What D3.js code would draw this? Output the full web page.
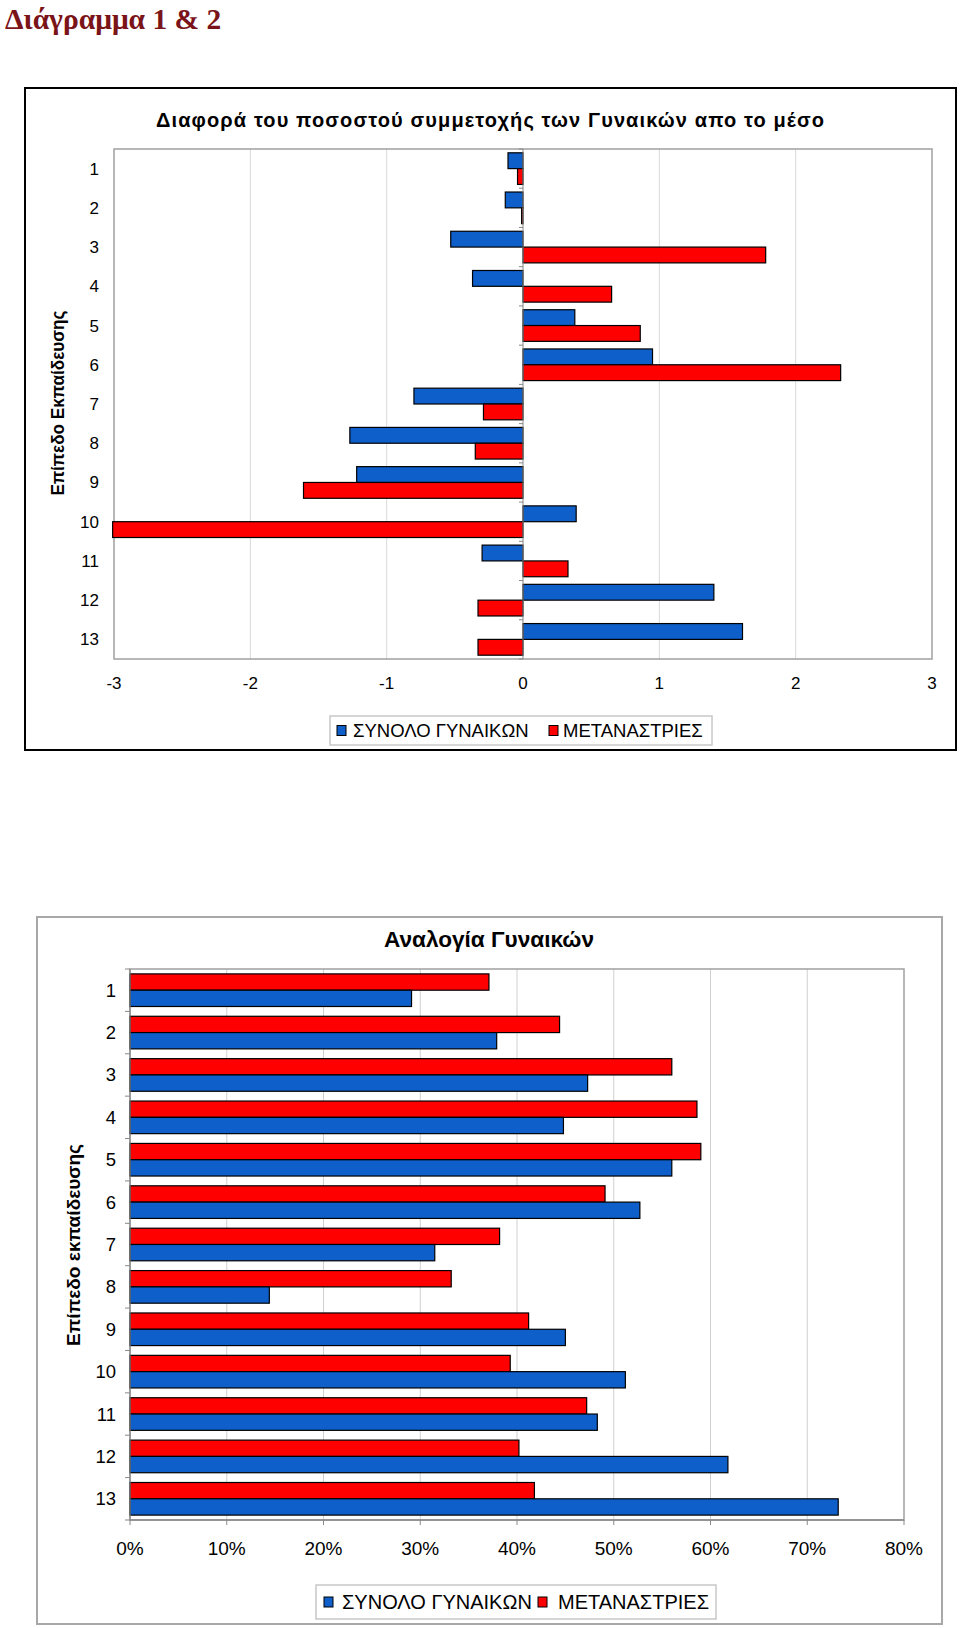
<!DOCTYPE html>
<html><head><meta charset="utf-8">
<script src="https://cdn.jsdelivr.net/npm/d3@7"></script>
<style>body{margin:0;background:#fff}svg{display:block}</style>
</head><body>
<svg id="c" width="960" height="1628"></svg>
<script>
// ---- Data ----
const categories = ["1","2","3","4","5","6","7","8","9","10","11","12","13"];
const seriesNames = ["ΣΥΝΟΛΟ ΓΥΝΑΙΚΩΝ","ΜΕΤΑΝΑΣΤΡΙΕΣ"];
// Chart 1: difference from mean
const diffTotal = [-0.11,-0.13,-0.53,-0.37,0.38,0.95,-0.80,-1.27,-1.22,0.39,-0.30,1.40,1.61];
const diffMigrant = [-0.04,-0.01,1.78,0.65,0.86,2.33,-0.29,-0.35,-1.61,-3.01,0.33,-0.33,-0.33];
const diffTicks = [-3,-2,-1,0,1,2,3];
// Chart 2: share of women
const shareTotal = [0.291,0.379,0.473,0.448,0.560,0.527,0.315,0.144,0.450,0.512,0.483,0.618,0.732];
const shareMigrant = [0.371,0.444,0.560,0.586,0.590,0.491,0.382,0.332,0.412,0.393,0.472,0.402,0.418];
const shareTicks = [0,0.1,0.2,0.3,0.4,0.5,0.6,0.7,0.8];

const BLUE = "#0F5FCB", RED = "#FF0000";
const svg = d3.select("#c");
const FONT = "'Liberation Sans', Arial, sans-serif";

// Main heading
svg.append("text").attr("x",5).attr("y",29)
  .attr("font-family","'Liberation Serif','Times New Roman',serif")
  .attr("font-weight","bold").attr("font-size",29.5).attr("fill","#7A1418")
  .text("Διάγραμμα 1 & 2");

function legend(g, x, y, w, h, fs, swatchX, text1X, swatch2X, text2X){
  g.append("rect").attr("x",x).attr("y",y).attr("width",w).attr("height",h)
    .attr("fill","#fff").attr("stroke","#c8c8c8").attr("stroke-width",1.5);
  const cy = y + h/2;
  const cols=[BLUE,RED];
  [[swatchX,text1X],[swatch2X,text2X]].forEach((p,i)=>{
    g.append("rect").attr("x",p[0]).attr("y",cy-5).attr("width",9).attr("height",10)
      .attr("fill",cols[i]).attr("stroke","#000").attr("stroke-width",1);
    g.append("text").attr("x",p[1]).attr("y",cy+fs*0.36).attr("font-family",FONT)
      .attr("font-size",fs).attr("fill","#000").text(seriesNames[i]);
  });
}

// ===== Chart 1 =====
{
  const g = svg.append("g");
  g.append("rect").attr("x",25).attr("y",88).attr("width",931).attr("height",662)
    .attr("fill","#fff").attr("stroke","#000").attr("stroke-width",2);
  g.append("text").attr("x",490).attr("y",127).attr("text-anchor","middle")
    .attr("font-family",FONT).attr("font-weight","bold").attr("font-size",20)
    .attr("textLength",668).attr("lengthAdjust","spacing")
    .text("Διαφορά του ποσοστού συμμετοχής των Γυναικών απο το μέσο");

  const x = d3.scaleLinear().domain([-3,3]).range([114,932]);
  const y = d3.scaleBand().domain(categories).range([149,659]);
  const sub = d3.scaleBand().domain([0,1]).range([0,y.bandwidth()]).paddingOuter(0.24);

  g.selectAll(".gl").data(diffTicks.filter(t=>t!==0 && Math.abs(t)<3)).join("line")
    .attr("x1",d=>x(d)).attr("x2",d=>x(d)).attr("y1",149).attr("y2",659)
    .attr("stroke","#d9d9d9").attr("stroke-width",1);
  g.append("rect").attr("x",114).attr("y",149).attr("width",818).attr("height",510)
    .attr("fill","none").attr("stroke","#a0a0a0").attr("stroke-width",1.5);

  const series = [diffTotal, diffMigrant];
  series.forEach((vals,si)=>{
    g.selectAll(".b"+si).data(vals).join("rect")
      .attr("x",d=>x(Math.min(0,d))).attr("width",d=>Math.abs(x(d)-x(0)))
      .attr("y",(d,i)=>y(categories[i])+sub(si)).attr("height",sub.bandwidth())
      .attr("fill",si===0?BLUE:RED).attr("stroke","#000").attr("stroke-width",1.2);
  });
  g.append("line").attr("x1",x(0)).attr("x2",x(0)).attr("y1",149).attr("y2",659)
    .attr("stroke","#888").attr("stroke-width",1);
  g.selectAll(".tk").data(d3.range(0,14)).join("line")
    .attr("x1",x(0)-4).attr("x2",x(0)).attr("y1",i=>149+i*y.step()).attr("y2",i=>149+i*y.step())
    .attr("stroke","#888");
  g.selectAll(".cl").data(categories).join("text")
    .attr("x",99).attr("y",d=>y(d)+y.bandwidth()/2+6).attr("text-anchor","end")
    .attr("font-family",FONT).attr("font-size",17).text(d=>d);
  g.selectAll(".xl").data(diffTicks).join("text")
    .attr("x",d=>x(d)).attr("y",689).attr("text-anchor","middle")
    .attr("font-family",FONT).attr("font-size",17).text(d=>d);
  g.append("text").attr("transform","translate(64,403) rotate(-90)").attr("text-anchor","middle")
    .attr("font-family",FONT).attr("font-weight","bold").attr("font-size",18)
    .attr("textLength",185).attr("lengthAdjust","spacingAndGlyphs").text("Επίπεδο Εκπαίδευσης");
  legend(g,330,716,382,29,18.5,337,353,549,563);
}

// ===== Chart 2 =====
{
  const g = svg.append("g");
  g.append("rect").attr("x",37).attr("y",917).attr("width",905).attr("height",707)
    .attr("fill","#fff").attr("stroke","#a8a8a8").attr("stroke-width",2);
  g.append("text").attr("x",489).attr("y",947).attr("text-anchor","middle")
    .attr("font-family",FONT).attr("font-weight","bold").attr("font-size",22)
    .attr("textLength",210).attr("lengthAdjust","spacingAndGlyphs")
    .text("Αναλογία Γυναικών");

  const x = d3.scaleLinear().domain([0,0.8]).range([130,904]);
  const y = d3.scaleBand().domain(categories).range([969,1520]);
  const sub = d3.scaleBand().domain([0,1]).range([0,y.bandwidth()]).paddingOuter(0.3);

  g.selectAll(".gl").data(shareTicks.slice(1,-1)).join("line")
    .attr("x1",d=>x(d)).attr("x2",d=>x(d)).attr("y1",969).attr("y2",1520)
    .attr("stroke","#d0d0d0").attr("stroke-width",1);
  g.append("rect").attr("x",130).attr("y",969).attr("width",774).attr("height",551)
    .attr("fill","none").attr("stroke","#a0a0a0").attr("stroke-width",1.5);

  const series = [shareMigrant, shareTotal];
  series.forEach((vals,si)=>{
    g.selectAll(".b"+si).data(vals).join("rect")
      .attr("x",x(0)).attr("width",d=>x(d)-x(0))
      .attr("y",(d,i)=>y(categories[i])+sub(si)).attr("height",sub.bandwidth())
      .attr("fill",si===0?RED:BLUE).attr("stroke","#000").attr("stroke-width",1.2);
  });
  g.append("line").attr("x1",130).attr("x2",904).attr("y1",1520).attr("y2",1520).attr("stroke","#888").attr("stroke-width",1.5);
  g.append("line").attr("x1",130).attr("x2",130).attr("y1",969).attr("y2",1520).attr("stroke","#888").attr("stroke-width",1.2);
  g.selectAll(".tky").data(d3.range(0,14)).join("line")
    .attr("x1",125).attr("x2",130).attr("y1",i=>969+i*y.step()).attr("y2",i=>969+i*y.step())
    .attr("stroke","#888");
  g.selectAll(".tkx").data(shareTicks).join("line")
    .attr("x1",d=>x(d)).attr("x2",d=>x(d)).attr("y1",1520).attr("y2",1525).attr("stroke","#888");
  g.selectAll(".cl").data(categories).join("text")
    .attr("x",116).attr("y",d=>y(d)+y.bandwidth()/2+6.5).attr("text-anchor","end")
    .attr("font-family",FONT).attr("font-size",18.5).text(d=>d);
  const pct = d3.format(".0%");
  g.selectAll(".xl").data(shareTicks).join("text")
    .attr("x",d=>x(d)).attr("y",1555).attr("text-anchor","middle")
    .attr("font-family",FONT).attr("font-size",19).text(d=>pct(d));
  g.append("text").attr("transform","translate(80,1245) rotate(-90)").attr("text-anchor","middle")
    .attr("font-family",FONT).attr("font-weight","bold").attr("font-size",19)
    .attr("textLength",202).attr("lengthAdjust","spacingAndGlyphs").text("Επίπεδο εκπαίδευσης");
  legend(g,316,1585,400,34,20,324,342,538,558);
}
</script>
</body></html>
